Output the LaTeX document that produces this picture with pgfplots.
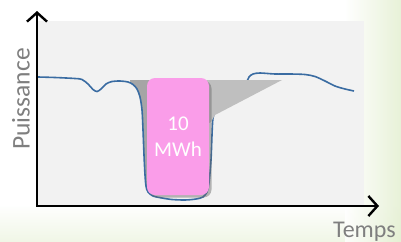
\documentclass[border=0pt]{standalone}
\usepackage{pgfplots}
\pgfplotsset{compat=1.18}
\usepackage{fontspec}
\setmainfont{Carlito}
\usetikzlibrary{arrows.meta,shadows}
\definecolor{panel}{RGB}{242,242,242}
\definecolor{curve}{RGB}{58,108,162}
\definecolor{boxpink}{RGB}{250,157,233}
\definecolor{txtgray}{RGB}{127,127,127}
\definecolor{grayL}{RGB}{165,165,165}
\definecolor{grayR}{RGB}{191,191,191}
\definecolor{bggreen}{RGB}{226,238,206}
\begin{document}
\begin{tikzpicture}
\begin{axis}[
  scale only axis, width=401bp, height=242bp,
  xmin=0, xmax=401, ymin=0, ymax=242, y dir=reverse,
  hide axis, clip=false]
\coordinate (BL) at (axis cs:0,242);
\coordinate (TR) at (axis cs:401,0);
% background
\fill[white] (axis cs:0,0) rectangle (axis cs:401,242);
\shade[top color=white, bottom color=bggreen, opacity=0.5] (axis cs:0,205) rectangle (axis cs:401,242);
\shade[left color=white, right color=bggreen, opacity=0.8] (axis cs:345,0) rectangle (axis cs:401,242);
% panel
\fill[panel] (axis cs:38,21) rectangle (axis cs:364,205);
% left gray fill
\addplot[draw=none, fill=grayL] coordinates {
 (130,80) (150,80) (150,190) (146,190) (145,175) (144,155) (143,130)
 (142,110) (140,97) (137,89) (133,84) (130,81.5)} -- cycle;
% curve
\addplot[curve, line width=1.6bp, smooth, tension=0.5] coordinates {
 (38,77) (55,77.5) (75,78.5) (82,79.5) (88,84) (93,89.5) (97,91.5) (101,89)
 (106,84) (112,81.5) (120,81) (128,82) (133,84.5) (137,89) (140,97) (142,110)
 (143,130) (144,155) (145,175) (146,186) (148,192) (153,196) (162,198)
 (172,199.5) (185,200) (196,199) (203,197) (207,192) (209,183) (211,160)
 (212,135) (213,118) (216,110) (225,102) (237,92) (246,83) (249,77) (253,74)
 (260,73) (275,74) (290,74) (305,74.5) (315,76.5) (325,81) (335,86) (345,89) (354,91)};
% right gray fill
\addplot[draw=none, fill=grayR] coordinates {
 (205,80) (282,80) (215,115) (211,122) (205,125)} -- cycle;
% box
\fill[boxpink, rounded corners=8bp, drop shadow={shadow xshift=2.5bp, shadow yshift=-2.5bp, opacity=0.45, fill=black!60}]
  (axis cs:147,78) rectangle (axis cs:209,195);
\node[white, anchor=base, font=\fontsize{21bp}{25bp}\selectfont] at (axis cs:178,130) {10};
\node[white, anchor=base, font=\fontsize{21bp}{25bp}\selectfont] at (axis cs:178,156.5) {MWh};
% axes
\draw[line width=2.8bp, -{Straight Barb[length=9bp,width=20bp,line width=2.4bp]}] (axis cs:37,206) -- (axis cs:37,11);
\draw[line width=2.8bp, -{Straight Barb[length=9bp,width=20bp,line width=2.4bp]}] (axis cs:36,206) -- (axis cs:379,206);
% labels
\node[txtgray, rotate=90, anchor=base, font=\fontsize{25.5bp}{30bp}\selectfont] at (axis cs:29.5,99) {Puissance};
\node[txtgray, anchor=base west, inner sep=0pt, font=\fontsize{24bp}{28bp}\selectfont] at (axis cs:333,237) {Temps};
\end{axis}
\pgfresetboundingbox
\path[use as bounding box] (BL) rectangle (TR);
\end{tikzpicture}
\end{document}
